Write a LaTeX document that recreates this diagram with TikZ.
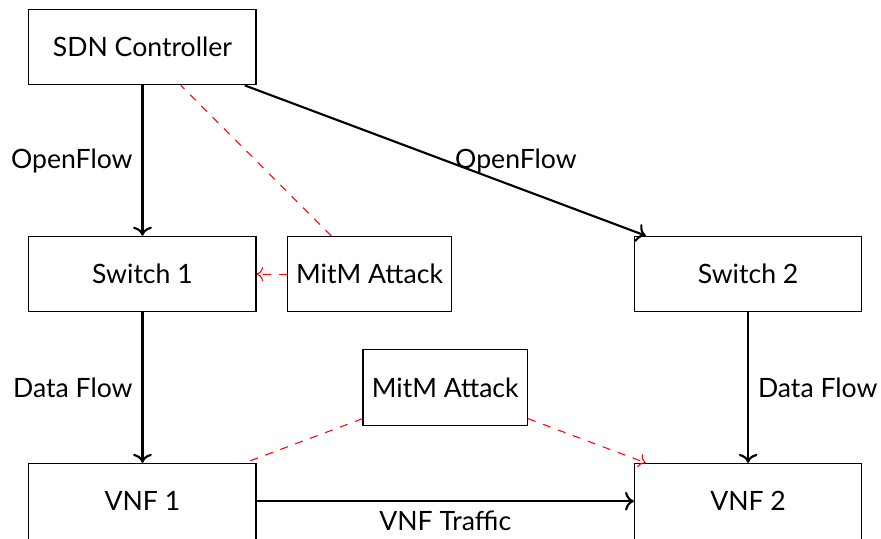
\documentclass[tikz,border=0pt]{standalone}
\usepackage{fontspec}
\setmainfont{Lato}
\usetikzlibrary{arrows.meta}
\begin{document}
\begin{tikzpicture}[
  box/.style={draw, rectangle, minimum width=3cm, minimum height=1cm, font=\fontsize{10}{12}\selectfont},
  attackbox/.style={draw, rectangle, minimum height=1cm, font=\fontsize{10}{12}\selectfont},
  flow/.style={thick, ->},
  attack/.style={red, dashed},
  lbl/.style={font=\fontsize{10}{12}\selectfont}
]
\useasboundingbox (-1.882,-6.486) rectangle (9.756,0.621);

% network elements
\node[box] (ctrl) at (0,0) {SDN Controller};
\node[box] (sw1) at (0,-3) {Switch 1};
\node[box] (sw2) at (8,-3) {Switch 2};
\node[box] (vnf1) at (0,-6) {VNF 1};
\node[box] (vnf2) at (8,-6) {VNF 2};

% attackers
\node[attackbox] (mitm1) at (3,-3) {MitM Attack};
\node[attackbox] (mitm2) at (4,-4.5) {MitM Attack};

% control and data paths
\draw[flow] (ctrl) -- node[left, lbl] {OpenFlow} (sw1);
\draw[flow] (ctrl) -- node[right, lbl] {OpenFlow} (sw2);
\draw[flow] (sw1) -- node[left, lbl] {Data Flow} (vnf1);
\draw[flow] (sw2) -- node[right, lbl] {Data Flow} (vnf2);
\draw[flow] (vnf1) -- node[below, lbl] {VNF Traffic} (vnf2);

% attack paths
\draw[attack, ->] (mitm1) -- (sw1);
\draw[attack] (mitm1) -- (ctrl);
\draw[attack] (mitm2) -- (vnf1);
\draw[attack, ->] (mitm2) -- (vnf2);
\end{tikzpicture}
\end{document}
